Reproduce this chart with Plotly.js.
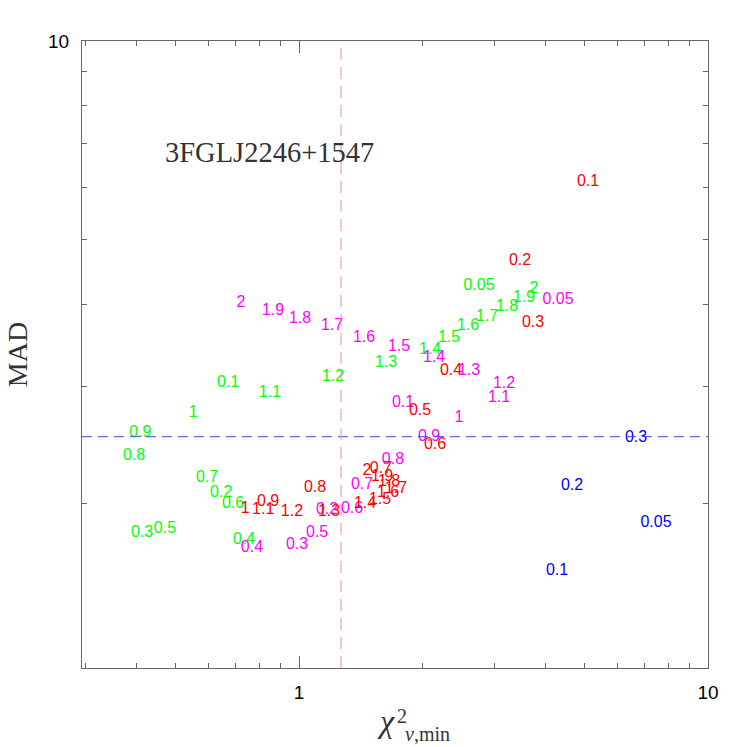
<!DOCTYPE html>
<html><head><meta charset="utf-8">
<script src="https://cdn.plot.ly/plotly-3.0.1.min.js"></script>
<style>html,body{margin:0;padding:0;background:#fff}</style>
</head><body>
<div id="chart" style="width:747px;height:747px"></div>
<script>
// Green series
const greenLabels = ["0.05","0.1","0.2","0.3","0.4","0.5","0.6","0.7","0.8","0.9","1","1.1","1.2","1.3","1.4","1.5","1.6","1.7","1.8","1.9","2"];
const greenX = [2.755,0.671,0.645,0.413,0.734,0.470,0.690,0.596,0.395,0.409,0.551,0.849,1.211,1.632,2.091,2.327,2.589,2.883,3.226,3.549,3.754];
const greenY = [4.26,3.04,2.07,1.80,1.76,1.83,1.99,2.18,2.36,2.55,2.74,2.93,3.10,3.26,3.41,3.56,3.70,3.83,3.96,4.09,4.21];

// Magenta series
const magentaLabels = ["0.05","0.1","0.2","0.3","0.4","0.5","0.6","0.7","0.8","0.9","1","1.1","1.2","1.3","1.4","1.5","1.6","1.7","1.8","1.9","2"];
const magentaX = [4.298,1.796,1.171,0.989,0.767,1.107,1.348,1.426,1.697,2.079,2.461,3.083,3.171,2.604,2.138,1.756,1.442,1.204,1.006,0.864,0.721];
const magentaY = [4.05,2.83,1.95,1.73,1.71,1.80,1.96,2.13,2.32,2.52,2.69,2.88,3.03,3.17,3.32,3.45,3.56,3.70,3.80,3.91,4.02];

// Red series
const redLabels = ["0.1","0.2","0.3","0.4","0.5","0.6","0.7","0.8","0.9","1","1.1","1.2","1.3","1.4","1.5","1.6","1.7","1.8","1.9","2"];
const redX = [5.089,3.470,3.733,2.353,1.976,2.150,1.586,1.094,0.840,0.738,0.817,0.961,1.184,1.450,1.578,1.651,1.726,1.660,1.596,1.466];
const redY = [6.13,4.64,3.75,3.17,2.76,2.45,2.25,2.11,2.01,1.96,1.95,1.94,1.94,1.99,2.02,2.07,2.10,2.15,2.19,2.24];

// Blue series
const blueLabels = ["0.05","0.1","0.2","0.3"];
const blueX = [7.462,4.274,4.651,6.668];
const blueY = [1.865,1.578,2.122,2.510];

// Reference thresholds
const madThreshold = 2.52;
const chi2Threshold = 1.267;
const sourceName = "3FGLJ2246+1547";

const xRange = [Math.log10(0.2946), 1];
const yRange = [0.0515, 1];

function textTrace(labels, xs, ys, color) {
  return {
    type: 'scatter', mode: 'text', x: xs, y: ys, text: labels,
    textposition: 'middle center',
    textfont: {family: 'Liberation Sans, Arial, sans-serif', size: 16, color: color},
    hoverinfo: 'skip', showlegend: false, cliponaxis: false
  };
}

const data = [
  textTrace(greenLabels, greenX, greenY, '#00ff00'),
  textTrace(magentaLabels, magentaX, magentaY, '#ff00ff'),
  textTrace(redLabels, redX, redY, '#ff0000'),
  textTrace(blueLabels, blueX, blueY, '#0000ff')
];

const axisCommon = {
  type: 'log', showgrid: false, zeroline: false,
  showline: true, linecolor: '#666', linewidth: 1, mirror: 'ticks',
  ticks: 'inside', ticklen: 12, tickcolor: '#666', tickwidth: 1,
  dtick: 1,
  minor: {ticks: 'inside', ticklen: 5, tickcolor: '#666', dtick: 'D1', showgrid: false},
  tickfont: {family: 'Liberation Sans, Arial, sans-serif', size: 19, color: '#000'},
  automargin: false
};

const layout = {
  width: 747, height: 747,
  margin: {l: 82, r: 39, t: 41, b: 79},
  paper_bgcolor: '#fff', plot_bgcolor: '#fff',
  showlegend: false,
  xaxis: Object.assign({}, axisCommon, {
    range: xRange, ticklabelstandoff: 7,
    title: {text: '<i>χ</i>&nbsp;&nbsp;', font: {family: 'Liberation Serif, serif', size: 32, color: '#333'}, standoff: 7}
  }),
  yaxis: Object.assign({}, axisCommon, {
    range: yRange, ticklabelstandoff: 8,
    title: {text: 'MAD', font: {family: 'Liberation Serif, serif', size: 28, color: '#333'}, standoff: 12}
  }),
  shapes: [
    {type: 'line', xref: 'paper', x0: 0, x1: 1, yref: 'y', y0: madThreshold, y1: madThreshold,
     line: {color: '#4646e6', width: 1, dash: '10px,6px'}},
    {type: 'line', yref: 'paper', y0: 0, y1: 1, xref: 'x', x0: chi2Threshold, x1: chi2Threshold,
     line: {color: '#ff8a8a', width: 1, dash: '12px,7px'}}
  ],
  annotations: [
    {xref: 'paper', yref: 'paper', x: 0.300, y: 0.8227, text: sourceName, showarrow: false,
     font: {family: 'Liberation Serif, serif', size: 28.5, color: '#333'}, xanchor: 'center', yanchor: 'middle'},
    {xref: 'paper', yref: 'paper', x: 0.511, y: -0.076, text: '2', showarrow: false,
     font: {family: 'Liberation Serif, serif', size: 20, color: '#333'}, xanchor: 'center', yanchor: 'middle'},
    {xref: 'paper', yref: 'paper', x: 0.552, y: -0.106, text: '<i>ν</i>,min', showarrow: false,
     font: {family: 'Liberation Serif, serif', size: 20, color: '#333'}, xanchor: 'center', yanchor: 'middle'}
  ]
};

Plotly.newPlot('chart', data, layout, {displayModeBar: false, staticPlot: true});
</script>
</body></html>
